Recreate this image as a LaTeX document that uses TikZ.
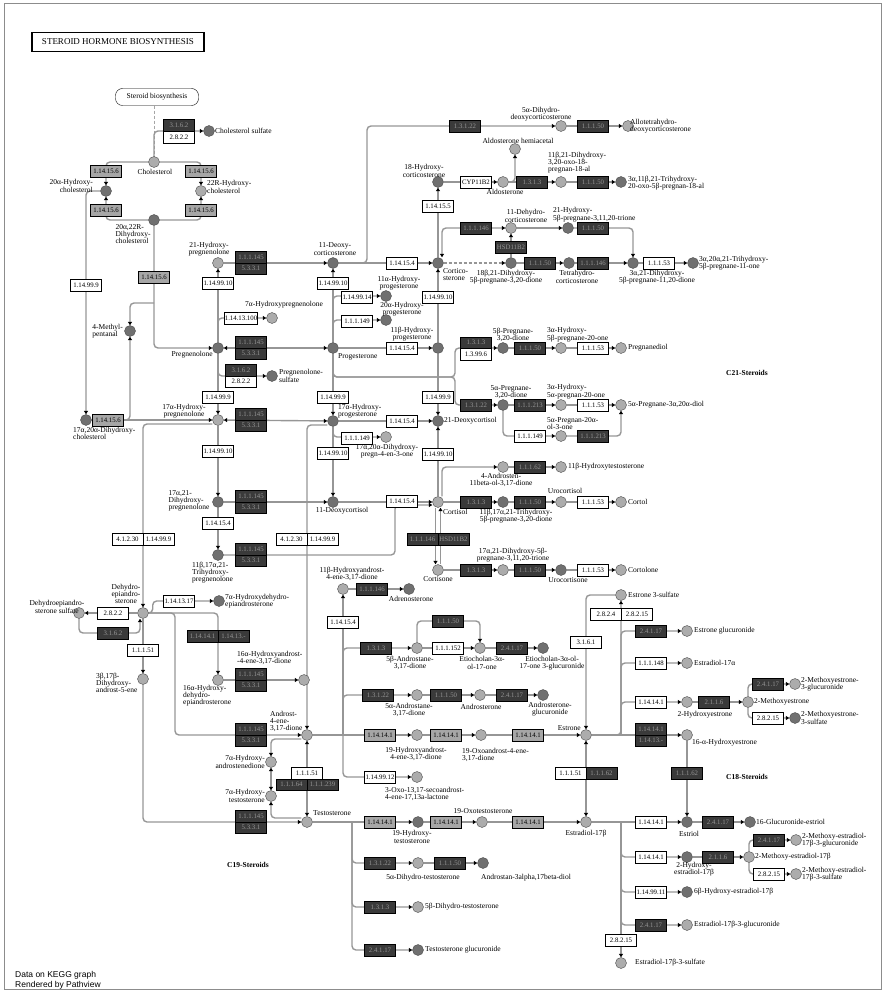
\documentclass[tikz,border=0pt]{standalone}
\usepackage{fontspec}
\setmainfont{Liberation Serif}
\newfontfamily\pvsans{Liberation Sans}
\usetikzlibrary{arrows.meta,positioning,backgrounds,calc}
\definecolor{LinkGray}{RGB}{150,150,150}
\definecolor{CpdLight}{RGB}{172,172,172}
\definecolor{CpdDark}{RGB}{112,112,112}
\definecolor{EzDark}{RGB}{58,58,58}
\definecolor{EzGray}{RGB}{166,166,166}
\definecolor{EzText}{RGB}{150,150,150}

\begin{document}
\begin{tikzpicture}[x=1pt,y=-1pt,
    cpl/.style={circle,draw=black!70,fill=CpdLight,minimum size=11pt,inner sep=0pt},
    cpd/.style={cpl,fill=CpdDark},
    ezw/.style={rectangle,draw=black,fill=white,minimum width=31pt,minimum height=11.5pt,inner sep=0.5pt,font=\fontsize{6.8}{7}\selectfont},
    ezd/.style={ezw,fill=EzDark,text=EzText},
    ezg/.style={ezw,fill=EzGray},
    lb/.style={inner sep=0pt,align=center,font=\fontsize{7.5}{7.2}\selectfont},
    hd/.style={inner sep=0pt,font=\bfseries\fontsize{7.5}{8}\selectfont},
    ln/.style={draw=LinkGray,line width=1.4pt,rounded corners=4pt},
    ar/.style={ln,-{Triangle[length=3.5pt,width=4pt,black]}},
    arr/.style={ln,{Triangle[length=3.5pt,width=4pt,black]}-{Triangle[length=3.5pt,width=4pt,black]}}]
\useasboundingbox (0,0) rectangle (885,992);
\draw[black!45,line width=0.8pt] (4,3) rectangle (881,989);

% title and map link
\node[draw,line width=1.2pt,minimum width=172pt,minimum height=19pt,font=\fontsize{9}{9}\selectfont] (title) at (118,42) {STEROID\ HORMONE BIOSYNTHESIS};
\node[draw,rounded corners=7pt,minimum width=83pt,minimum height=17pt,lb] (sbio) at (157,97) {Steroid biosynthesis};

% compounds -- cholesterol / pregnenolone
\node[cpd] (chols) at (209,131) {};
\node[cpl] (chol) at (154,162) {};
\node[cpd] (c20ahc) at (106,191) {};
\node[cpl] (c22rhc) at (201,191) {};
\node[cpd] (c2022) at (154,220) {};
\node[cpd] (c4mp) at (130,331) {};
\node[cpd] (c1720dhc) at (86,420) {};
\node[cpl] (c21ohpreg) at (218,263) {};
\node[cpd] (preg) at (218,348) {};
\node[cpl] (c7ohpreg) at (272,318) {};
\node[cpd] (pregs) at (272,376) {};
\node[cpl] (c17ohpreg) at (218,420) {};
\node[cpd] (c1721preg) at (218,502) {};
\node[cpd] (c111721preg) at (218,555) {};
% progesterone / corticosteroids
\node[cpd] (c11doc) at (333,263) {};
\node[cpd] (prog) at (333,348) {};
\node[cpd] (c11aohp) at (386,296) {};
\node[cpd] (c20aohp) at (386,320) {};
\node[cpd] (c11bohp) at (438,348) {};
\node[cpd] (c17ohprog) at (333,421) {};
\node[cpd] (c21doc) at (438,421) {};
\node[cpl] (c1720dp) at (386,437) {};
\node[cpd] (c11dcortisol) at (333,502) {};
\node[cpl] (cortisol) at (438,502) {};
\node[cpl] (cortisone) at (438,570) {};
\node[cpd] (cort) at (438,263) {};
\node[cpd] (c18ohb) at (438,182) {};
\node[cpl] (ald) at (503,182) {};
\node[cpl] (aldh) at (515,149) {};
\node[cpl] (c1121ox) at (561,182) {};
\node[cpd] (c3a11b21) at (621,182) {};
\node[cpl] (c5adhdoc) at (561,126) {};
\node[cpl] (allothdoc) at (628,126) {};
\node[cpl] (c11dhc) at (511,228) {};
\node[cpd] (c21ohtri) at (568,228) {};
\node[cpd] (c18b21) at (511,263) {};
\node[cpd] (thb) at (569,263) {};
\node[cpd] (c3a21) at (633,263) {};
\node[cpd] (c3a20a21) at (693,263) {};
\node[cpd] (c5bp) at (503,348) {};
\node[cpl] (c3a5bp) at (561,348) {};
\node[cpl] (pregnanediol) at (621,348) {};
\node[cpd] (c5ap) at (503,405) {};
\node[cpl] (c3a5ap) at (561,405) {};
\node[cpl] (c5adiol) at (621,405) {};
\node[cpl] (c5a20ol) at (561,436) {};
\node[cpl] (c4a11b) at (503,467) {};
\node[cpl] (c11boht) at (561,467) {};
\node[cpd] (c111721b) at (503,502) {};
\node[cpl] (urocortisol) at (561,502) {};
\node[cpl] (cortol) at (621,502) {};
\node[cpl] (c1721tri) at (503,570) {};
\node[cpd] (urocortisone) at (561,570) {};
\node[cpl] (cortolone) at (621,570) {};
% androgens
\node[cpl] (dhea) at (143,613) {};
\node[cpl] (dheas) at (79,613) {};
\node[cpd] (c7ohdhea) at (219,601) {};
\node[cpl] (c16ohdhea) at (218,680) {};
\node[cpl] (c3b17b) at (143,679) {};
\node[cpl] (c16oha) at (304,680) {};
\node[cpl] (andro) at (307,735) {};
\node[cpl] (c7aoha) at (271,762) {};
\node[cpl] (c7aoht) at (271,796) {};
\node[cpl] (testo) at (307,822) {};
\node[cpl] (c11boha) at (343,589) {};
\node[cpd] (adreno) at (409,589) {};
\node[cpl] (c5bad) at (417,648) {};
\node[cpl] (etio) at (480,648) {};
\node[cpd] (etiog) at (543,648) {};
\node[cpl] (c5aad) at (417,695) {};
\node[cpl] (androst) at (480,695) {};
\node[cpd] (androstg) at (543,695) {};
\node[cpl] (c19oha) at (417,735) {};
\node[cpl] (c19oxoa) at (481,735) {};
\node[cpl] (lactone) at (417,777) {};
\node[cpd] (c19oht) at (418,822) {};
\node[cpl] (c19oxot) at (482,822) {};
\node[cpl] (c5adht) at (418,863) {};
\node[cpd] (adiol) at (483,863) {};
\node[cpl] (c5bdht) at (418,907) {};
\node[cpd] (testog) at (418,950) {};
% estrogens
\node[cpl] (estrone) at (586,735) {};
\node[cpl] (estradiol) at (586,822) {};
\node[cpl] (e1s) at (621,595) {};
\node[cpl] (e1g) at (687,631) {};
\node[cpl] (e2a) at (687,663) {};
\node[cpl] (c2ohe1) at (687,702) {};
\node[cpl] (c2me1) at (748,702) {};
\node[cpl] (c2me1g) at (795,684) {};
\node[cpd] (c2me1s) at (795,718) {};
\node[cpl] (c16ohe1) at (687,735) {};
\node[cpd] (estriol) at (687,822) {};
\node[cpd] (c16ge3) at (750,822) {};
\node[cpd] (c2ohe2) at (687,857) {};
\node[cpl] (c2me2) at (749,857) {};
\node[cpl] (c2me2g) at (796,840) {};
\node[cpl] (c2me2s) at (796,874) {};
\node[cpd] (c6ohe2) at (687,892) {};
\node[cpl] (e2g) at (687,925) {};
\node[cpl] (e2s) at (621,963) {};

% enzymes
\node[ezd] (e1) at (179,125) {3.1.6.2};
\node[ezw] (e2) at (179,137) {2.8.2.2};
\node[ezg] (e3) at (106,171) {1.14.15.6};
\node[ezg] (e4) at (201,171) {1.14.15.6};
\node[ezg] (e5) at (106,210) {1.14.15.6};
\node[ezg] (e6) at (201,210) {1.14.15.6};
\node[ezw] (e7) at (86,285) {1.14.99.9};
\node[ezg] (e8) at (154,277) {1.14.15.6};
\node[ezg] (e9) at (108,420) {1.14.15.6};
\node[ezd] (e10) at (251,257) {1.1.1.145};
\node[ezd] (e11) at (251,268.5) {5.3.3.1};
\node[ezw] (e12) at (218,283) {1.14.99.10};
\node[ezw] (e13) at (241,318) {1.14.13.100};
\node[ezd] (e14) at (251,342) {1.1.1.145};
\node[ezd] (e15) at (251,353.5) {5.3.3.1};
\node[ezd] (e16) at (241,370) {3.1.6.2};
\node[ezw] (e17) at (241,381.5) {2.8.2.2};
\node[ezw] (e18) at (218,397) {1.14.99.9};
\node[ezd] (e19) at (251,414) {1.1.1.145};
\node[ezd] (e20) at (251,425.5) {5.3.3.1};
\node[ezw] (e21) at (218,451) {1.14.99.10};
\node[ezd] (e22) at (251,496) {1.1.1.145};
\node[ezd] (e23) at (251,507.5) {5.3.3.1};
\node[ezw] (e24) at (218,523) {1.14.15.4};
\node[ezd] (e25) at (251,549) {1.1.1.145};
\node[ezd] (e26) at (251,560.5) {5.3.3.1};
\node[ezw] (e27) at (127.5,539) {4.1.2.30};
\node[ezw] (e28) at (158.5,539) {1.14.99.9};
\node[ezw] (e29) at (291.5,539) {4.1.2.30};
\node[ezw] (e30) at (322.5,539) {1.14.99.9};
\node[ezw] (e31) at (333,283) {1.14.99.10};
\node[ezw] (e32) at (357,297) {1.14.99.14};
\node[ezw] (e33) at (357,321) {1.1.1.149};
\node[ezw] (e34) at (402,348) {1.14.15.4};
\node[ezw] (e35) at (333,397) {1.14.99.9};
\node[ezw] (e36) at (402,421) {1.14.15.4};
\node[ezw] (e37) at (357,438) {1.1.1.149};
\node[ezw] (e38) at (333,453) {1.14.99.10};
\node[ezw] (e39) at (402,501) {1.14.15.4};
\node[ezw] (e40) at (402,263) {1.14.15.4};
\node[ezw] (e41) at (438,206) {1.14.15.5};
\node[ezw] (e42) at (476,182) {CYP11B2};
\node[ezd] (e43) at (532,182) {1.3.1.3};
\node[ezd] (e44) at (593,182) {1.1.1.50};
\node[ezd] (e45) at (465,126) {1.3.1.22};
\node[ezd] (e46) at (593,126) {1.1.1.50};
\node[ezd] (e47) at (476,228) {1.1.1.146};
\node[ezd] (e48) at (511,247) {HSD11B2};
\node[ezd] (e49) at (593,228) {1.1.1.50};
\node[ezd] (e50) at (540,263) {1.1.1.50};
\node[ezd] (e51) at (593,263) {1.1.1.146};
\node[ezw] (e52) at (659,263) {1.1.1.53};
\node[ezw] (e53) at (438,297) {1.14.99.10};
\node[ezw] (e54) at (438,397) {1.14.99.9};
\node[ezw] (e55) at (438,454) {1.14.99.10};
\node[ezd] (e56) at (476,342.5) {1.3.1.3};
\node[ezw] (e57) at (476,354) {1.3.99.6};
\node[ezd] (e58) at (530,348) {1.1.1.50};
\node[ezw] (e59) at (593,348) {1.1.1.53};
\node[ezd] (e60) at (476,405) {1.3.1.22};
\node[ezd] (e61) at (530,405) {1.1.1.213};
\node[ezw] (e62) at (593,405) {1.1.1.53};
\node[ezw] (e63) at (530,436) {1.1.1.149};
\node[ezd] (e64) at (593,436) {1.1.1.213};
\node[ezd] (e65) at (530,467) {1.1.1.62};
\node[ezd] (e66) at (476,502) {1.3.1.3};
\node[ezd] (e67) at (530,502) {1.1.1.50};
\node[ezw] (e68) at (593,502) {1.1.1.53};
\node[ezd] (e69) at (422.5,539) {1.1.1.146};
\node[ezd] (e70) at (453.5,539) {HSD11B2};
\node[ezd] (e71) at (476,570) {1.3.1.3};
\node[ezd] (e72) at (530,570) {1.1.1.50};
\node[ezw] (e73) at (593,570) {1.1.1.53};
\node[ezw] (e74) at (113,613) {2.8.2.2};
\node[ezd] (e75) at (113,633) {3.1.6.2};
\node[ezw] (e76) at (179,601) {1.14.13.17};
\node[ezd] (e77) at (202.5,636) {1.14.14.1};
\node[ezd] (e78) at (233.5,636) {1.14.13.-};
\node[ezw] (e79) at (143,650) {1.1.1.51};
\node[ezd] (e80) at (251,674) {1.1.1.145};
\node[ezd] (e81) at (251,685.5) {5.3.3.1};
\node[ezd] (e82) at (251,729) {1.1.1.145};
\node[ezd] (e83) at (251,740.5) {5.3.3.1};
\node[ezd] (e84) at (251,816) {1.1.1.145};
\node[ezd] (e85) at (251,827.5) {5.3.3.1};
\node[ezw] (e86) at (307,773) {1.1.1.51};
\node[ezd] (e87) at (291.5,784.5) {1.1.1.64};
\node[ezd] (e88) at (322.5,784.5) {1.1.1.239};
\node[ezw] (e89) at (343,622) {1.14.15.4};
\node[ezd] (e90) at (372,589) {1.1.1.146};
\node[ezd] (e91) at (376,648) {1.3.1.3};
\node[ezw] (e92) at (448,648) {1.1.1.152};
\node[ezd] (e93) at (448,621) {1.1.1.50};
\node[ezd] (e94) at (512,648) {2.4.1.17};
\node[ezd] (e95) at (378,695) {1.3.1.22};
\node[ezd] (e96) at (446,695) {1.1.1.50};
\node[ezd] (e97) at (512,695) {2.4.1.17};
\node[ezg] (e98) at (380,735) {1.14.14.1};
\node[ezg] (e99) at (446,735) {1.14.14.1};
\node[ezg] (e100) at (528,735) {1.14.14.1};
\node[ezw] (e101) at (380,777) {1.14.99.12};
\node[ezg] (e102) at (380,822) {1.14.14.1};
\node[ezg] (e103) at (446,822) {1.14.14.1};
\node[ezg] (e104) at (528,822) {1.14.14.1};
\node[ezd] (e105) at (380,863) {1.3.1.22};
\node[ezd] (e106) at (450,863) {1.1.1.50};
\node[ezd] (e107) at (380,907) {1.3.1.3};
\node[ezd] (e108) at (380,950) {2.4.1.17};
\node[ezw] (e109) at (570.5,773) {1.1.1.51};
\node[ezd] (e110) at (601.5,773) {1.1.1.62};
\node[ezw] (e111) at (586,642) {3.1.6.1};
\node[ezw] (e112) at (606,614) {2.8.2.4};
\node[ezw] (e113) at (637,614) {2.8.2.15};
\node[ezd] (e114) at (651,631) {2.4.1.17};
\node[ezw] (e115) at (651,663) {1.1.1.148};
\node[ezw] (e116) at (651,702) {1.14.14.1};
\node[ezd] (e117) at (714,702) {2.1.1.6};
\node[ezd] (e118) at (768,684) {2.4.1.17};
\node[ezw] (e119) at (768,718) {2.8.2.15};
\node[ezd] (e120) at (651,729) {1.14.14.1};
\node[ezd] (e121) at (651,740.5) {1.14.13.-};
\node[ezd] (e122) at (687,773) {1.1.1.62};
\node[ezw] (e123) at (651,822) {1.14.14.1};
\node[ezd] (e124) at (718,822) {2.4.1.17};
\node[ezw] (e125) at (651,857) {1.14.14.1};
\node[ezd] (e126) at (718,857) {2.1.1.6};
\node[ezd] (e127) at (769,840) {2.4.1.17};
\node[ezw] (e128) at (769,874) {2.8.2.15};
\node[ezw] (e129) at (651,892) {1.14.99.11};
\node[ezd] (e130) at (651,925) {2.4.1.17};
\node[ezw] (e131) at (621,940) {2.8.2.15};

% compound labels
\node[lb,anchor=west] (lchols) at (215,131) {Cholesterol sulfate};
\node[lb] (lchol) at (155,172) {Cholesterol};
\node[lb,anchor=east,align=right] (l20ahc) at (93,186) {20α-Hydroxy-\\cholesterol};
\node[lb,anchor=west,align=left] (l22rhc) at (207,187) {22R-Hydroxy-\\cholesterol};
\node[lb,align=left] (l2022) at (133,234) {20α,22R-\\Dihydroxy-\\cholesterol};
\node[lb,anchor=east,align=left] (l4mp) at (123,331) {4-Methyl-\\pentanal};
\node[lb,anchor=north west,align=left] (l1720dhc) at (73,427) {17α,20α-Dihydroxy-\\cholesterol};
\node[lb] (l21ohpreg) at (209,249) {21-Hydroxy-\\pregnenolone};
\node[lb,anchor=west] (l7ohpreg) at (245,305) {7α-Hydroxypregnenolone};
\node[lb,anchor=east] (lpreg) at (213,355) {Pregnenolone};
\node[lb,anchor=west,align=left] (lpregs) at (279,376) {Pregnenolone-\\sulfate};
\node[lb] (l17ohpreg) at (184,411) {17α-Hydroxy-\\pregnenolone};
\node[lb,align=left] (l1721preg) at (189,501) {17α,21-\\Dihydroxy-\\pregnenolone};
\node[lb,anchor=north west,align=left] (l111721preg) at (192,562) {11β,17α,21-\\Trihydroxy-\\pregnenolone};
\node[lb] (l11doc) at (335,249) {11-Deoxy-\\corticosterone};
\node[lb] (l11aohp) at (399,283) {11α-Hydroxy-\\progesterone};
\node[lb] (l20aohp) at (402,309) {20α-Hydroxy-\\progesterone};
\node[lb] (l11bohp) at (412,334) {11β-Hydroxy-\\progesterone};
\node[lb,anchor=west] (lprog) at (338,357) {Progesterone};
\node[lb,anchor=west,align=left] (l17ohprog) at (338,411) {17α-Hydroxy-\\progesterone};
\node[lb,anchor=west] (l21doc) at (444,421) {21-Deoxycortisol};
\node[lb] (l1720dp) at (387,451) {17α,20α-Dihydroxy-\\pregn-4-en-3-one};
\node[lb] (l11dcortisol) at (342,511) {11-Deoxycortisol};
\node[lb,anchor=west] (lcortisol) at (443,512) {Cortisol};
\node[lb] (lcortisone) at (438,579) {Cortisone};
\node[lb] (l18ohb) at (424,171) {18-Hydroxy-\\corticosterone};
\node[lb] (lald) at (505,192) {Aldosterone};
\node[lb] (laldh) at (518,141) {Aldosterone hemiacetal};
\node[lb,anchor=north west,align=left] (l1121ox) at (548,152) {11β,21-Dihydroxy-\\3,20-oxo-18-\\pregnan-18-al};
\node[lb,anchor=west,align=left] (l3a11b21) at (628,183) {3α,11β,21-Trihydroxy-\\20-oxo-5β-pregnan-18-al};
\node[lb] (l5adhdoc) at (541,114) {5α-Dihydro-\\deoxycorticosterone};
\node[lb,anchor=west,align=left] (lallothdoc) at (630,126) {Allotetrahydro-\\deoxycorticosterone};
\node[lb] (l11dhc) at (526,216) {11-Dehydro-\\corticosterone};
\node[lb,anchor=south west,align=left] (l21ohtri) at (553,222) {21-Hydroxy-\\5β-pregnane-3,11,20-trione};
\node[lb,anchor=north west,align=left] (lcort) at (443,268) {Cortico-\\sterone};
\node[lb] (l18b21) at (506,277) {18β,21-Dihydroxy-\\5β-pregnane-3,20-dione};
\node[lb] (lthb) at (577,277) {Tetrahydro-\\corticosterone};
\node[lb] (l3a21) at (657,277) {3α,21-Dihydroxy-\\5β-pregnane-11,20-dione};
\node[lb,anchor=west,align=left] (l3a20a21) at (699,263) {3α,20α,21-Trihydroxy-\\5β-pregnane-11-one};
\node[lb] (l5bp) at (513,335) {5β-Pregnane-\\3,20-dione};
\node[lb,anchor=south west,align=left] (l3a5bp) at (547,342) {3α-Hydroxy-\\5β-pregnane-20-one};
\node[lb,anchor=west] (lpregnanediol) at (628,348) {Pregnanediol};
\node[lb] (l5ap) at (511,392) {5α-Pregnane-\\3,20-dione};
\node[lb,anchor=south west,align=left] (l3a5ap) at (547,399) {3α-Hydroxy-\\5α-pregnan-20-one};
\node[lb,anchor=west] (l5adiol) at (628,405) {5α-Pregnane-3α,20α-diol};
\node[lb,anchor=south west,align=left] (l5a20ol) at (547,430) {5α-Pregnan-20α-\\ol-3-one};
\node[lb] (l4a11b) at (501,480) {4-Androsten-\\11beta-ol-3,17-dione};
\node[lb,anchor=west] (l11boht) at (568,467) {11β-Hydroxytestosterone};
\node[lb] (l111721b) at (516,516) {11β,17α,21-Trihydroxy-\\5β-pregnane-3,20-dione};
\node[lb] (lurocortisol) at (565,491) {Urocortisol};
\node[lb,anchor=west] (lcortol) at (628,502) {Cortol};
\node[lb] (l1721tri) at (513,555) {17α,21-Dihydroxy-5β-\\pregnane-3,11,20-trione};
\node[lb] (lurocortisone) at (568,580) {Urocortisone};
\node[lb,anchor=west] (lcortolone) at (628,570) {Cortolone};
\node[lb] (ldhea) at (126,594) {Dehydro-\\epiandro-\\sterone};
\node[lb] (ldheas) at (57,607) {Dehydroepiandro-\\sterone sulfate};
\node[lb,anchor=west,align=left] (l7ohdhea) at (225,601) {7α-Hydroxydehydro-\\epiandrosterone};
\node[lb,anchor=north west,align=left] (l16ohdhea) at (183,685) {16α-Hydroxy-\\dehydro-\\epiandrosterone};
\node[lb,anchor=north west,align=left] (l3b17b) at (96,673) {3β,17β-\\Dihydroxy-\\androst-5-ene};
\node[lb,anchor=south west,align=left] (l16oha) at (237,665) {16α-Hydroxyandrost-\\-4-ene-3,17-dione};
\node[lb,anchor=north west,align=left] (landro) at (270,711) {Androst-\\4-ene-\\3,17-dione};
\node[lb,anchor=east,align=right] (l7aoha) at (265,762) {7α-Hydroxy-\\androstenedione};
\node[lb,anchor=east,align=right] (l7aoht) at (265,796) {7α-Hydroxy-\\testosterone};
\node[lb,anchor=west] (ltesto) at (313,813) {Testosterone};
\node[lb] (l11boha) at (352,574) {11β-Hydroxyandrost-\\4-ene-3,17-dione};
\node[lb] (ladreno) at (411,599) {Adrenosterone};
\node[lb] (l5bad) at (410,663) {5β-Androstane-\\3,17-dione};
\node[lb] (letio) at (482,663) {Etiocholan-3α-\\ol-17-one};
\node[lb] (letiog) at (552,663) {Etiocholan-3α-ol-\\17-one 3-glucuronide};
\node[lb] (l5aad) at (409,710) {5α-Androstane-\\3,17-dione};
\node[lb] (landrost) at (481,707) {Androsterone};
\node[lb] (landrostg) at (550,709) {Androsterone-\\glucuronide};
\node[lb] (l19oha) at (416,754) {19-Hydroxyandrost-\\4-ene-3,17-dione};
\node[lb,anchor=north west,align=left] (l19oxoa) at (462,748) {19-Oxoandrost-4-ene-\\3,17-dione};
\node[lb,anchor=east] (lestrone) at (581,728) {Estrone};
\node[lb,anchor=north west,align=left] (llactone) at (385,787) {3-Oxo-13,17-secoandrost-\\4-ene-17,13a-lactone};
\node[lb] (l19oht) at (412,837) {19-Hydroxy-\\testosterone};
\node[lb] (l19oxot) at (483,811) {19-Oxotestosterone};
\node[lb] (lestradiol) at (586,834) {Estradiol-17β};
\node[lb] (l5adht) at (423,878) {5α-Dihydro-testosterone};
\node[lb] (ladiol) at (526,878) {Androstan-3alpha,17beta-diol};
\node[lb,anchor=west] (l5bdht) at (425,907) {5β-Dihydro-testosterone};
\node[lb,anchor=west] (ltestog) at (425,950) {Testosterone glucuronide};
\node[lb,anchor=west] (le1s) at (628,595) {Estrone 3-sulfate};
\node[lb,anchor=west] (le1g) at (694,631) {Estrone glucuronide};
\node[lb,anchor=west] (le2a) at (694,663) {Estradiol-17α};
\node[lb] (l2ohe1) at (705,715) {2-Hydroxyestrone};
\node[lb,anchor=west] (l2me1) at (754,702) {2-Methoxyestrone};
\node[lb,anchor=west,align=left] (l2me1g) at (801,684) {2-Methoxyestrone-\\3-glucuronide};
\node[lb,anchor=west,align=left] (l2me1s) at (801,718) {2-Methoxyestrone-\\3-sulfate};
\node[lb,anchor=west] (l16ohe1) at (692,743) {16-α-Hydroxyestrone};
\node[lb] (lestriol) at (689,834) {Estriol};
\node[lb,anchor=west] (l16ge3) at (756,822) {16-Glucuronide-estriol};
\node[lb] (l2ohe2) at (694,869) {2-Hydroxy-\\estradiol-17β};
\node[lb,anchor=west] (l2me2) at (755,857) {2-Methoxy-estradiol-17β};
\node[lb,anchor=west,align=left] (l2me2g) at (802,840) {2-Methoxy-estradiol-\\17β-3-glucuronide};
\node[lb,anchor=west,align=left] (l2me2s) at (802,874) {2-Methoxy-estradiol-\\17β-3-sulfate};
\node[lb,anchor=west] (l6ohe2) at (694,892) {6β-Hydroxy-estradiol-17β};
\node[lb,anchor=west] (le2g) at (694,925) {Estradiol-17β-3-glucuronide};
\node[lb,anchor=west] (le2s) at (635,963) {Estradiol-17β-3-sulfate};

\node[hd] (hc21) at (747,373) {C21-Steroids};
\node[hd] (hc19) at (248,865) {C19-Steroids};
\node[hd] (hc18) at (747,777) {C18-Steroids};
\node[anchor=west,align=left,inner sep=0pt,font=\pvsans\fontsize{8.5}{10}\selectfont] (foot) at (15,980) {Data on KEGG graph\\Rendered by Pathview};

% branch points
\coordinate (k4mp) at (154,303);
\coordinate (kcs) at (395,555);
\coordinate (kdoc) at (367,126);
\coordinate (kp) at (455,377);
\coordinate (kdh) at (140,633);
\coordinate (kda) at (175,735);
\coordinate (ka) at (343,735);
\coordinate (kt) at (352,822);
\coordinate (ke) at (621,735);
\coordinate (kf) at (621,822);

\begin{scope}[on background layer]
  \draw[draw=black!35,line width=1pt,dash pattern=on 3pt off 2pt] (sbio.south -| chol) -- (chol.north);
  % cholesterol side chain cleavage
  \draw[ar] (chol) |- (chols);
  \draw[ar] (chol) -| (c20ahc);
  \draw[ar] (chol) -| (c22rhc);
  \draw[ar] (c2022) -| (c20ahc);
  \draw[ar] (c2022) -| (c22rhc);
  \draw[ar] (c20ahc) -| (c1720dhc);
  \draw[ar] (c2022) |- (preg);
  \draw[ar] (k4mp) -| (c4mp);
  \draw[ar] (c1720dhc) -| (c4mp);
  \draw[arr] (c1720dhc) -- (c17ohpreg);
  % pregnenolone
  \draw[ar] (preg) -- (c21ohpreg);
  \draw[ar] (preg) |- (c7ohpreg);
  \draw[ar] (preg) |- (pregs);
  \draw[ar] (c21ohpreg) -- (c11doc);
  \draw[arr] (preg) -- (prog);
  \draw[ar] (preg) -- (c17ohpreg);
  \draw[arr] (c17ohpreg) -- (c17ohprog);
  \draw[ar] (c17ohpreg) -- (c1721preg);
  \draw[ar] (c1721preg) -- (c11dcortisol);
  \draw[ar] (c1721preg) -- (c111721preg);
  \draw[ar] (c111721preg) -- (kcs) |- ([yshift=-3pt]cortisol.west);
  \draw[ar] ([yshift=-4pt]c17ohpreg.west) -| (dhea);
  \draw[ar] ([yshift=-4pt]c17ohprog.west) -| (andro);
  % progesterone
  \draw[ar] (prog) -- (c11doc);
  \draw[ar] (prog) |- (c11aohp);
  \draw[ar] (prog) |- (c20aohp);
  \draw[ar] (prog) -- (c11bohp);
  \draw[ar] (prog) -- (c17ohprog);
  \draw[ar] (c17ohprog) -- (c21doc);
  \draw[ar] (c17ohprog) |- (c1720dp);
  \draw[ar] (c17ohprog) -- (c11dcortisol);
  \draw[ar] (c11dcortisol) -- (cortisol);
  \draw[ar] (c11doc) -- (cort);
  \draw[ar] (c11doc) -| (kdoc) -- (c5adhdoc);
  \draw[ar] (c5adhdoc) -- (allothdoc);
  \draw[ar] (prog) |- (kp) |- (c5bp);
  \draw[ar] (prog) |- (kp) |- (c5ap);
  \draw[ar] (c5bp) -- (c3a5bp);
  \draw[ar] (c3a5bp) -- (pregnanediol);
  \draw[ar] (c5ap) -- (c3a5ap);
  \draw[ar] (c3a5ap) -- (c5adiol);
  \draw[ar] (c5ap) |- (c5a20ol);
  \draw[ar] (c5a20ol) -| (c5adiol);
  % corticosterone
  \draw[ar] (cort) -- (c18ohb);
  \draw[ar] (c18ohb) -- (ald);
  \draw[ar] (ald) -| (aldh);
  \draw[ar] (ald) -- (c1121ox);
  \draw[ar] (c1121ox) -- (c3a11b21);
  \draw[arr] ([xshift=4pt]cort.north) |- (c11dhc);
  \draw[ar] (c18b21) -- (c11dhc);
  \draw[ar,dash pattern=on 3pt off 2pt] (cort) -- (c18b21);
  \draw[ar] (c18b21) -- (thb);
  \draw[ar] (thb) -- (c3a21);
  \draw[ar] (c3a21) -- (c3a20a21);
  \draw[ar] (c11dhc) -- (c21ohtri);
  \draw[ar] (c21ohtri) -| (c3a21);
  \draw[ar] (c11bohp) -- (cort);
  \draw[ar] (c11bohp) -- (c21doc);
  \draw[ar] (cortisol) -- (c21doc);
  % cortisol / cortisone
  \draw[ar] ([xshift=-2.5pt]cortisol.south) -- ([xshift=-2.5pt]cortisone.north);
  \draw[ar] ([xshift=2.5pt]cortisone.north) -- ([xshift=2.5pt]cortisol.south);
  \draw[ar] ([xshift=4pt]cortisol.north) |- (c4a11b);
  \draw[ar] (c4a11b) -- (c11boht);
  \draw[ar] (cortisol) -- (c111721b);
  \draw[ar] (c111721b) -- (urocortisol);
  \draw[ar] (urocortisol) -- (cortol);
  \draw[ar] (cortisone) -- (c1721tri);
  \draw[ar] (c1721tri) -- (urocortisone);
  \draw[ar] (urocortisone) -- (cortolone);
  % DHEA
  \draw[ar] (dhea) -- (dheas);
  \draw[ar] (dheas) |- (kdh) -- ([xshift=-3pt]dhea.south);
  \draw[ar] (dhea.east) -- ++(4,0) |- (c7ohdhea);
  \draw[ar] (dhea) -| (c16ohdhea);
  \draw[ar] (dhea) -| (kda) -- (andro);
  \draw[ar] (dhea) -- (c3b17b);
  \draw[ar] (c3b17b) |- (testo);
  \draw[ar] (c16ohdhea) -- (c16oha);
  \draw[arr] (andro) -- (testo);
  \draw[ar] ([yshift=-4pt]andro.west) -| (c7aoha);
  \draw[arr] (c7aoha) -- (c7aoht);
  \draw[ar] ([yshift=4pt]testo.west) -| (c7aoht);
  % androstenedione
  \draw[ar] (andro) -- (c19oha);
  \draw[ar] (c19oha) -- (c19oxoa);
  \draw[ar] (c19oxoa) -- (estrone);
  \draw[ar] (ka) -- (c11boha);
  \draw[ar] (c11boha) -- (adreno);
  \draw[ar] (ka) |- (c5bad);
  \draw[ar] (ka) |- (c5aad);
  \draw[ar] (ka) |- (lactone);
  \draw[ar] (c5bad) -- (etio);
  \draw[ar] (c5bad.north) -- (c5bad |- e93) -| (etio.north);
  \draw[ar] (etio) -- (etiog);
  \draw[ar] (c5aad) -- (androst);
  \draw[ar] (androst) -- (androstg);
  % testosterone
  \draw[ar] (testo) -- (c19oht);
  \draw[ar] (c19oht) -- (c19oxot);
  \draw[ar] (c19oxot) -- (estradiol);
  \draw[ar] (kt) |- (c5adht);
  \draw[ar] (kt) |- (c5bdht);
  \draw[ar] (kt) |- (testog);
  \draw[ar] (c5adht) -- (adiol);
  % estrone
  \draw[arr] (estrone) -- (estradiol);
  \draw[ar] (e1s) -| (estrone);
  \draw[ar] (estrone) -| (e1s);
  \draw[ar] (ke) |- (e1g);
  \draw[ar] (ke) |- (e2a);
  \draw[ar] (ke) |- (c2ohe1);
  \draw[ar] (estrone) -- (c16ohe1);
  \draw[ar] (c2ohe1) -- (c2me1);
  \draw[ar] (c2me1) |- (c2me1g);
  \draw[ar] (c2me1) |- (c2me1s);
  \draw[ar] (c16ohe1) -- (estriol);
  % estradiol
  \draw[ar] (estradiol) -- (estriol);
  \draw[ar] (estriol) -- (c16ge3);
  \draw[ar] (kf) |- (c2ohe2);
  \draw[ar] (kf) |- (c6ohe2);
  \draw[ar] (kf) |- (e2g);
  \draw[ar] (kf) -- (e2s);
  \draw[ar] (c2ohe2) -- (c2me2);
  \draw[ar] (c2me2) |- (c2me2g);
  \draw[ar] (c2me2) |- (c2me2s);
\end{scope}
\end{tikzpicture}
\end{document}
